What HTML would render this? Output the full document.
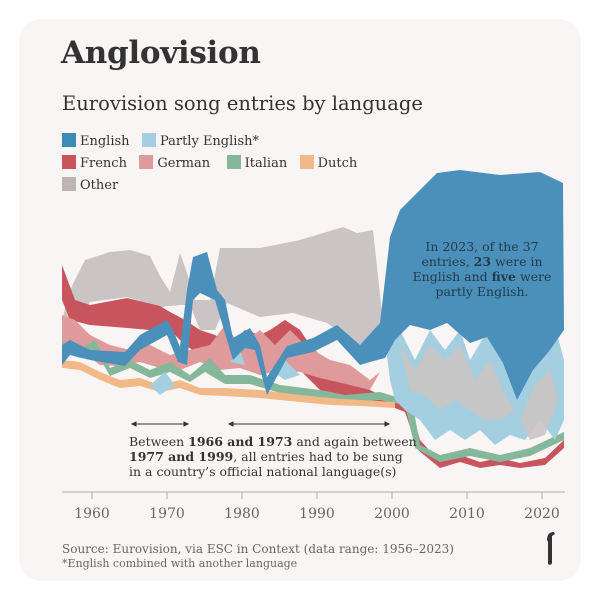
<!DOCTYPE html>
<html><head><meta charset="utf-8"><style>
html,body{margin:0;padding:0;background:#fff;}
body{width:600px;height:600px;position:relative;overflow:hidden;font-family:"DejaVu Serif","Liberation Serif",serif;}
.card{position:absolute;left:19px;top:19px;width:562px;height:562px;border-radius:22px;background:#faf5f5;}
.t{position:absolute;white-space:nowrap;color:#333;}
.sw{display:inline-block;width:14px;height:14px;vertical-align:-2px;margin-right:4px;}
</style></head><body>
<div class="card"></div>
<div class="t" style="left:61px;top:35px;font-size:31px;font-weight:bold;color:#333;letter-spacing:-0.3px;">Anglovision</div>
<div class="t" style="left:62px;top:92px;font-size:19.5px;color:#333;">Eurovision song entries by language</div>
<div class="t" style="left:62px;top:133px;font-size:13px;"><span class="sw" style="background:#3d8bbb"></span>English&nbsp;&nbsp;&nbsp;<span class="sw" style="background:#a4cfe0"></span>Partly English*</div>
<div class="t" style="left:62px;top:155px;font-size:13px;"><span class="sw" style="background:#c8555e"></span>French&nbsp;&nbsp;&nbsp;<span class="sw" style="background:#df9b9b"></span>German&nbsp;&nbsp;&nbsp;&nbsp;<span class="sw" style="background:#85b89a"></span>Italian&nbsp;&nbsp;&nbsp;<span class="sw" style="background:#f0b987"></span>Dutch</div>
<div class="t" style="left:62px;top:177px;font-size:13px;"><span class="sw" style="background:#bdb4b4"></span>Other</div>

<svg style="position:absolute;left:0;top:0" width="600" height="600">
<path d="M62,320 L70,290 L85,260 L110,252 L130,250 L150,256 L160,276 L170,292 L180,253 L187,273 L195,300 L210,300 L220,248 L260,248 L300,240 L343,227 L357,233 L373,230 L382,313 L380,327 L360,347 L327,323 L293,313 L260,317 L227,303 L215,330 L200,330 L190,305 L180,305 L160,307 L127,297 L90,302 L70,330 Z" fill="#cbc4c4"/>
<path d="M62,265 L75,300 L90,305 L127,298 L160,306 L170,312 L185,320 L200,330 L215,335 L230,345 L245,330 L260,335 L270,330 L285,320 L300,330 L310,345 L320,355 L340,370 L360,385 L380,395 L400,400 L410,405 L420,440 L440,462 L460,455 L480,462 L500,458 L520,463 L545,458 L564,440 L564,448 L545,465 L520,468 L500,465 L480,468 L460,462 L440,468 L418,450 L405,412 L380,402 L350,402 L320,390 L300,370 L270,360 L240,358 L215,360 L200,355 L185,345 L170,330 L150,330 L127,328 L90,325 L70,320 L62,300 Z" fill="#c8555e"/>
<path d="M62,315 L75,320 L90,335 L110,345 L130,350 L150,345 L170,355 L190,350 L210,345 L225,325 L240,345 L260,330 L275,345 L290,330 L305,345 L330,360 L350,365 L370,380 L380,372 L370,390 L350,385 L320,378 L300,372 L280,370 L260,375 L240,368 L220,370 L200,362 L180,370 L160,368 L140,362 L120,366 L100,365 L80,350 L62,345 Z" fill="#df9b9b"/>
<path d="M62,342 L80,350 L95,340 L110,368 L130,360 L150,370 L170,362 L190,375 L210,358 L225,375 L250,375 L280,385 L320,390 L345,395 L380,392 L400,398 L412,400 L420,445 L440,455 L470,448 L500,455 L530,448 L564,432 L564,440 L530,456 L500,462 L470,456 L440,462 L415,448 L405,405 L380,400 L345,403 L320,398 L280,393 L250,384 L225,384 L205,372 L190,382 L170,372 L150,378 L130,368 L110,376 L95,350 L80,358 L62,352 Z" fill="#85b89a"/>
<path d="M62,360 L80,362 L100,372 L120,380 L140,378 L160,385 L180,380 L200,388 L225,388 L260,390 L300,395 L330,398 L360,400 L395,402 L395,408 L360,406 L330,405 L300,402 L260,398 L225,396 L200,395 L180,388 L160,392 L140,386 L120,388 L100,380 L80,370 L62,368 Z" fill="#f0b987"/>
<path d="M385,340 L400,330 L415,360 L430,330 L445,350 L460,330 L470,360 L485,335 L500,350 L515,380 L530,360 L545,345 L556,330 L564,360 L564,420 L555,440 L540,420 L525,440 L510,435 L495,445 L480,430 L465,440 L450,430 L435,440 L420,420 L405,410 L395,400 L390,380 Z" fill="#a4cfe0"/>
<path d="M400,345 L415,370 L430,345 L445,360 L460,345 L475,380 L490,360 L505,395 L520,420 L535,385 L550,370 L558,400 L545,435 L530,440 L515,410 L500,420 L485,420 L470,410 L455,400 L440,410 L425,395 L410,390 Z" fill="#cbc4c4" opacity="0.9"/>
<path d="M150,385 L165,372 L175,385 L160,395 Z M270,370 L285,360 L300,375 L285,380 Z M230,362 L240,350 L245,365 Z" fill="#a4cfe0"/>
<path d="M62,345 L70,340 L90,350 L125,352 L140,335 L167,320 L173,330 L180,347 L187,290 L193,257 L207,252 L217,290 L225,300 L233,338 L250,328 L260,345 L267,377 L287,346 L313,338 L337,325 L360,345 L380,323 L390,237 L400,210 L420,190 L437,173 L460,170 L500,175 L540,172 L563,183 L564,330 L550,350 L533,370 L517,400 L503,363 L487,337 L470,343 L447,323 L430,330 L410,325 L395,340 L385,358 L370,362 L360,365 L337,340 L313,352 L287,358 L267,395 L255,350 L245,348 L233,360 L215,300 L200,293 L193,300 L187,365 L178,362 L167,335 L140,350 L125,366 L90,360 L70,355 L62,365 Z" fill="#4a90bb"/>
<line x1="62" y1="492" x2="565" y2="492" stroke="#aaa" stroke-width="1"/>
<g stroke="#aaa" stroke-width="1">
<line x1="92" y1="492" x2="92" y2="499"/><line x1="167" y1="492" x2="167" y2="499"/><line x1="242" y1="492" x2="242" y2="499"/><line x1="317" y1="492" x2="317" y2="499"/><line x1="392" y1="492" x2="392" y2="499"/><line x1="467" y1="492" x2="467" y2="499"/><line x1="542" y1="492" x2="542" y2="499"/>
</g>
<g font-family="DejaVu Serif, serif" font-size="14" fill="#666" text-anchor="middle">
<text x="92" y="518">1960</text><text x="167" y="518">1970</text><text x="242" y="518">1980</text><text x="317" y="518">1990</text><text x="392" y="518">2000</text><text x="467" y="518">2010</text><text x="542" y="518">2020</text>
</g>
<g stroke="#333" stroke-width="1" fill="#333">
<line x1="133" y1="424" x2="187" y2="424"/><path d="M132,424 L136,422 L136,426Z M188,424 L184,422 L184,426Z"/>
<line x1="230" y1="424" x2="388" y2="424"/><path d="M229,424 L233,422 L233,426Z M389,424 L385,422 L385,426Z"/>
</g>
<g font-family="DejaVu Serif, serif" font-size="12.5" fill="#333">
<text x="129" y="446">Between <tspan font-weight="bold">1966 and 1973</tspan> and again between</text>
<text x="129" y="461"><tspan font-weight="bold">1977 and 1999</tspan>, all entries had to be sung</text>
<text x="129" y="476">in a country’s official national language(s)</text>
</g>
<g font-family="DejaVu Serif, serif" font-size="12.5" fill="#233a4a" text-anchor="middle">
<text x="482" y="251">In 2023, of the 37</text>
<text x="482" y="266">entries, <tspan font-weight="bold">23</tspan> were in</text>
<text x="482" y="281">English and <tspan font-weight="bold">five</tspan> were</text>
<text x="482" y="296">partly English.</text>
</g>
<path d="M547,540 Q547,532 554,532 L555,534 L552,536 L552,563 Q551,566 548,564 L548,542 Z" fill="#333"/>
</svg>
<div class="t" style="left:62px;top:542px;font-size:12px;color:#666;">Source: Eurovision, via ESC in Context (data range: 1956–2023)</div>
<div class="t" style="left:62px;top:557px;font-size:11px;color:#666;">*English combined with another language</div>
</body></html>
